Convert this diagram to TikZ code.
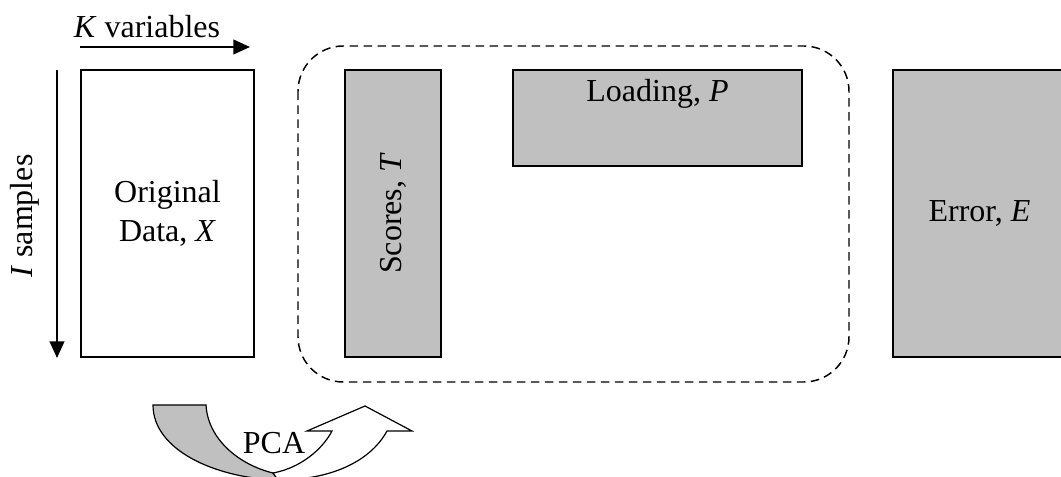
\documentclass[tikz,border=0pt]{standalone}
\usepackage{fontspec}
\setmainfont{Liberation Serif}
\usepackage{xcolor}
\usepackage{tikz}
\usetikzlibrary{arrows.meta,positioning,calc}
\definecolor{blockfill}{RGB}{192,192,192}
\tikzset{
  datablk/.style ={draw, line width=0.9pt, fill=white, align=center, inner sep=0pt},
  grayblk/.style ={datablk, fill=blockfill},
  txt/.style     ={inner sep=0pt, align=center},
  axis/.style    ={-{Triangle[length=12.5pt,width=11pt]}, line width=1.6pt},
  group/.style   ={draw, dashed, dash pattern=on 6.5pt off 4pt, line width=1.1pt, rounded corners=34pt}
}
\begin{document}
\begin{tikzpicture}[x=0.75pt, y=-0.75pt, font=\fontsize{24}{29.5}\selectfont]
  \useasboundingbox (0,0) rectangle (1061,477);
  % blocks
  \node[datablk, minimum width=129.75pt, minimum height=215.25pt] (data) at (167.5,213.5) {Original\\Data, \textit{X}};
  \node[grayblk, minimum width=72pt, minimum height=215.25pt] (scores) at (393,213.5) {};
  \node[txt, rotate=90] (scorestxt) at (scores.center) {Scores, \textit{T}};
  \node[grayblk, minimum width=216.75pt, minimum height=72pt] (load) at (657.5,118) {};
  \node[txt] (loadtxt) at (657.5,94) {Loading, \textit{P}};
  \node[grayblk, minimum width=129.75pt, minimum height=215.25pt] (err) at (979.5,213.5) {Error, \textit{E}};
  \draw[group] (298,46) rectangle (849,382);
  % axes
  \coordinate (kstart) at (80,47);
  \coordinate (kend)   at (250,47);
  \coordinate (istart) at (57,70);
  \coordinate (iend)   at (57,358);
  \draw[axis] (kstart) -- (kend);
  \draw[axis] (istart) -- (iend);
  \node[txt] (ktxt) at (147,27) {\textit{K} variables};
  \node[txt, rotate=90] (itxt) at (25,216) {\textit{I} samples};
  % PCA arrow
  \draw[line width=0.9pt, fill=blockfill] (153,405) -- (206,405)
    .. controls (208,440) and (240,465) .. (273,473)
    -- (278,480)
    .. controls (215,478) and (153,450) .. cycle;
  \draw[line width=0.9pt, fill=white, line join=miter] (273,473)
    .. controls (300,468) and (322,450) .. (332,431)
    -- (307,431) -- (365,406) -- (412,431) -- (387,431)
    .. controls (370,462) and (330,480) .. (278,480)
    -- cycle;
  \node[txt] (pca) at (274,443) {PCA};
\end{tikzpicture}
\end{document}
